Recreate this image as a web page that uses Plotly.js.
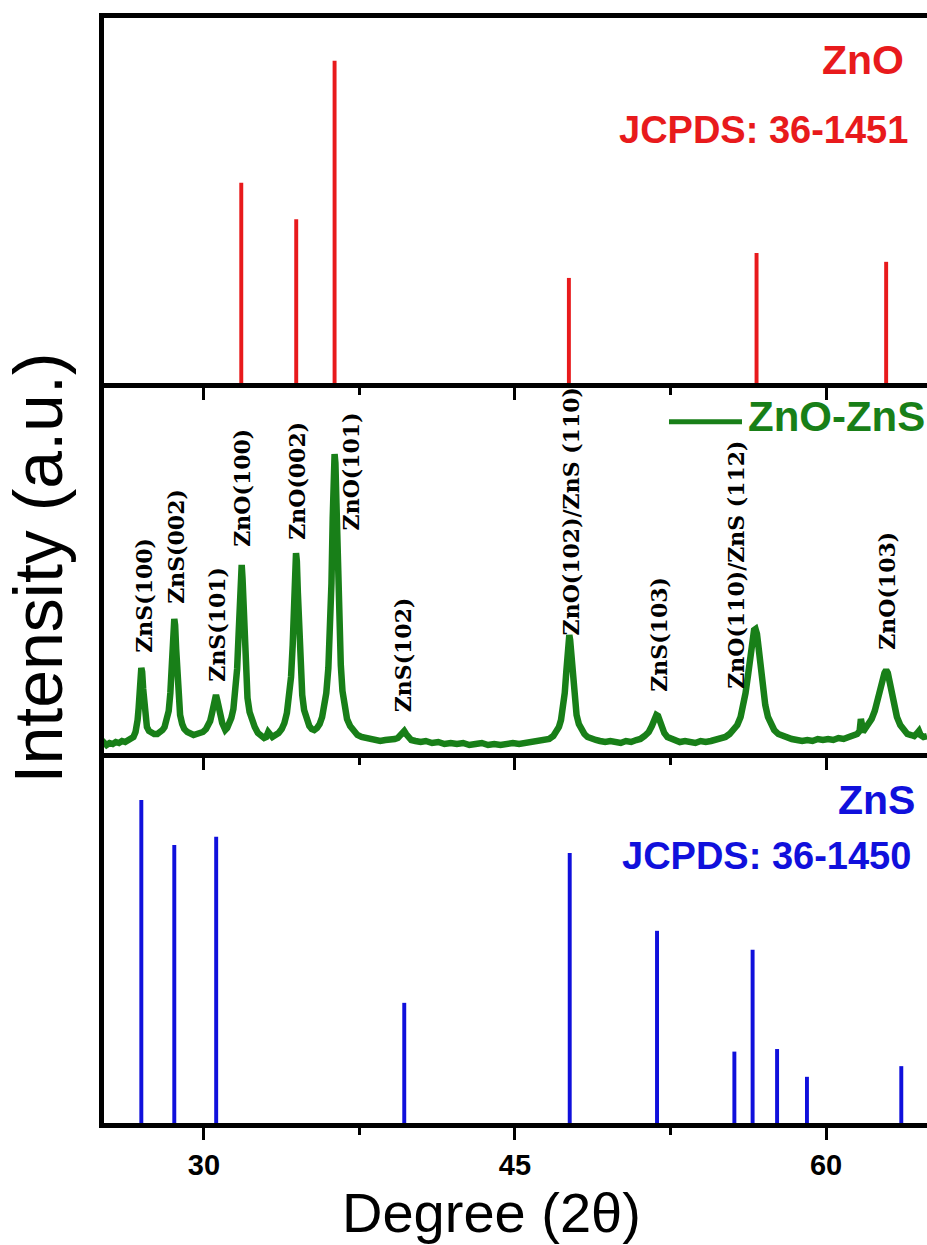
<!DOCTYPE html>
<html>
<head>
<meta charset="utf-8">
<script src="https://cdn.plot.ly/plotly-3.0.1.min.js"></script>
<style>html,body{margin:0;padding:0;background:#fff;}#chart{width:927px;height:1245px;}</style>
</head>
<body>
<div id="chart"></div>
<script>
// ZnO reference pattern (JCPDS 36-1451): 2theta and relative intensity
const znoRef2theta = [31.8, 34.45, 36.3, 47.6, 56.65, 62.9];
const znoRefIntensity = [62.1, 50.8, 100, 32.6, 40.3, 37.6];

// ZnS reference pattern (JCPDS 36-1450)
const znsRef2theta = [26.98, 28.57, 30.59, 39.66, 47.64, 51.85, 55.58, 56.46, 57.64, 59.08, 63.63];
const znsRefIntensity = [100, 86.1, 88.6, 37.2, 83.6, 59.5, 22.1, 53.6, 22.9, 14.3, 17.6];

const xrd2theta = [25.0,25.15,25.3,25.45,25.6,25.75,25.9,26.05,26.2,26.35,26.5,26.6,26.7,
26.75,26.8,26.85,26.9,26.95,26.98,27.02,27.07,27.12,27.18,27.25,27.35,27.45,27.6,27.75,27.9,28.0,28.1,28.2,28.3,28.38,28.45,28.52,28.57,28.61,28.66,28.72,28.78,28.85,28.95,29.05,29.2,29.35,29.5,29.65,29.8,29.95,30.1,30.2,30.3,30.38,30.45,30.52,30.58,30.64,30.7,30.76,30.82,
30.88,30.95,31.03,31.12,31.22,31.32,31.42,31.52,31.6,31.67,31.73,31.78,31.82,31.86,31.91,31.97,32.03,32.1,32.2,32.32,32.45,32.6,32.75,32.9,33.0,33.1,33.18,33.3,33.45,33.6,33.75,33.88,34.0,34.1,34.2,34.28,34.35,34.4,34.44,34.48,34.53,34.59,34.66,34.74,34.83,34.95,35.08,35.2,35.32,35.45,35.58,35.7,35.8,35.9,36.0,36.08,36.15,36.21,36.26,36.3,36.34,36.39,36.45,36.52,36.6,36.68,36.78,36.9,37.05,37.2,37.4,37.6,37.8,38.0,38.25,38.5,38.75,39.0,39.2,39.35,39.48,39.58,39.66,39.75,39.85,40.0,40.2,40.45,40.7,41.0,41.3,41.6,41.9,42.2,42.5,42.8,43.1,43.4,43.7,44.0,44.3,44.6,44.9,45.2,45.5,45.8,46.1,46.4,46.65,46.85,47.0,47.12,47.22,47.32,47.4,47.47,47.53,47.58,47.62,47.66,47.72,47.8,47.88,47.97,48.08,48.2,48.35,48.5,48.7,48.9,49.1,49.35,49.6,49.85,50.1,50.35,50.6,50.85,51.05,51.25,51.45,51.6,51.72,51.82,51.9,51.98,52.08,52.2,52.35,52.55,52.75,52.95,53.2,53.45,53.7,53.95,54.2,54.45,54.7,54.95,55.15,55.35,55.55,55.72,55.88,56.0,56.12,56.24,56.35,56.45,56.53,56.6,56.67,56.75,56.85,56.95,57.07,57.2,57.35,57.5,57.7,57.9,58.1,58.35,58.6,58.85,59.1,59.35,59.6,59.85,60.1,60.35,60.6,60.85,61.1,61.3,61.5,61.62,61.68,61.72,61.78,61.9,62.05,62.2,62.35,62.5,62.62,62.72,62.82,62.9,62.98,63.06,63.16,63.28,63.42,63.58,63.75,63.92,64.1,64.25,64.4,64.48,64.56,64.7,64.87];
const xrdCounts = [9,11,8,10,9,11,10,12,11,13,14,16,21,
26,33,45,62,80,85,81,64,46,33,26,22,20,19,19,21,23,26,32,42,60,87,118,134,128,104,74,52,38,29,24,21,19,18,19,20,21,24,27,32,39,49,57,58,53,44,38,36,
30,25,23,25,29,35,44,60,84,118,160,186,188,175,142,104,75,55,41,32,26,20,17,15,16,21,19,16,18,20,24,30,40,53,76,108,153,188,200,192,160,118,82,58,43,33,27,24,23,25,29,36,45,60,85,120,170,235,285,299,290,250,190,130,88,62,45,34,27,22,18,16,15,14,13,12,13,13,14,15,18,21,22,19,16,13,12,11,12,10,11,9,10,9,10,8,9,10,8,9,8,9,10,9,10,11,11,12,14,17,21,26,33,45,60,80,102,116,118,113,96,72,52,38,29,23,19,16,14,13,12,11,12,11,10,12,11,13,14,17,21,27,34,38,37,31,25,20,16,14,13,11,12,11,10,12,11,12,13,14,16,19,23,28,36,46,60,78,98,115,123,124,119,105,84,64,48,36,28,23,19,17,15,14,13,12,13,12,14,13,14,13,15,14,16,17,19,22,34,30,21,24,28,34,42,52,62,72,80,83,80,72,60,47,36,28,22,19,18,17,20,22,18,16,17];

// Peak assignments in the measured pattern
const peakLabels = ["ZnS(100)","ZnS(002)","ZnS(101)","ZnO(100)","ZnO(002)","ZnO(101)","ZnS(102)","ZnO(102)/ZnS (110)","ZnS(103)","ZnO(110)/ZnS (112)","ZnO(103)"];
const peakLabel2theta = [27.07, 28.62, 30.59, 31.82, 34.48, 37.11, 39.59, 47.72, 51.91, 55.65, 62.93];
const peakLabelBase = [98, 147, 69, 204, 211, 221, 39, 116, 59, 62, 101];

const xTickVals = [30, 45, 60];
const xTickText = ["30", "45", "60"];

const RED = "#e81a1c", BLUE = "#1010dc", GREEN = "#187f18";
const SANS = "Liberation Sans, Arial, sans-serif";

const traces = [
  {type: "bar", x: znoRef2theta, y: znoRefIntensity, width: 0.19, xaxis: "x3", yaxis: "y3",
   marker: {color: RED, line: {width: 0}}, name: "ZnO", hoverinfo: "x+y"},
  {type: "scatter", mode: "lines", x: xrd2theta, y: xrdCounts, xaxis: "x2", yaxis: "y2",
   line: {color: GREEN, width: 6.5}, name: "ZnO-ZnS"},
  {type: "bar", x: znsRef2theta, y: znsRefIntensity, width: 0.19, xaxis: "x", yaxis: "y",
   marker: {color: BLUE, line: {width: 0}}, name: "ZnS", hoverinfo: "x+y"}
];

const xCommon = {
  range: [25.18, 64.87], showline: true, linewidth: 5, linecolor: "#000",
  ticks: "outside", ticklen: 12, tickwidth: 3, tickcolor: "#000",
  tickmode: "array", tickvals: xTickVals, ticktext: xTickText,
  minor: {tickvals: [37.5, 52.5], ticks: "outside", ticklen: 7, tickwidth: 3, tickcolor: "#000"},
  showgrid: false, zeroline: false, fixedrange: true
};
const yCommon = {
  showline: true, linewidth: 5, linecolor: "#000", ticks: "", showticklabels: false,
  showgrid: false, zeroline: false, fixedrange: true
};

const b1 = 0.33484, b2 = 0.66968;

const annotations = peakLabels.map((t, i) => ({
  text: "<b>" + t + "</b>", x: peakLabel2theta[i], y: peakLabelBase[i], xref: "x2", yref: "y2",
  textangle: -90, xanchor: "center", yanchor: "bottom", showarrow: false,
  font: {family: "DejaVu Serif, Liberation Serif, serif", size: 22, color: "#000"}
}));

annotations.push(
  {text: "<b>ZnO</b>", xref: "paper", yref: "paper", x: 0.9745, y: 0.9620, xanchor: "right", yanchor: "middle",
   showarrow: false, font: {family: SANS, size: 41, color: RED}},
  {text: "<b>JCPDS: 36-1451</b>", xref: "paper", yref: "paper", x: 0.9795, y: 0.8986, xanchor: "right", yanchor: "middle",
   showarrow: false, font: {family: SANS, size: 38, color: RED}},
  {text: "<b>ZnO-ZnS</b>", xref: "paper", yref: "paper", x: 0.7801, y: 0.6392, xanchor: "left", yanchor: "middle",
   showarrow: false, font: {family: SANS, size: 42, color: GREEN}},
  {text: "<b>ZnS</b>", xref: "paper", yref: "paper", x: 0.9878, y: 0.2923, xanchor: "right", yanchor: "middle",
   showarrow: false, font: {family: SANS, size: 41, color: BLUE}},
  {text: "<b>JCPDS: 36-1450</b>", xref: "paper", yref: "paper", x: 0.9830, y: 0.2416, xanchor: "right", yanchor: "middle",
   showarrow: false, font: {family: SANS, size: 38, color: BLUE}},
  {text: "Degree (2θ)", xref: "paper", yref: "paper", x: 0.4714, y: -0.0507, xanchor: "center", yanchor: "top",
   showarrow: false, font: {family: SANS, size: 56, color: "#000"}}
);

const layout = {
  width: 927, height: 1245,
  margin: {l: 104, r: 0, t: 18, b: 122},
  paper_bgcolor: "#fff", plot_bgcolor: "#fff",
  showlegend: false,
  font: {family: SANS, color: "#000"},
  xaxis: Object.assign({}, xCommon, {anchor: "y",
    tickfont: {family: SANS, size: 29, color: "#000", weight: "bold"}}),
  xaxis2: Object.assign({}, xCommon, {anchor: "y2", matches: "x", showticklabels: false}),
  xaxis3: Object.assign({}, xCommon, {anchor: "y3", matches: "x", showticklabels: false, mirror: true}),
  yaxis: Object.assign({}, yCommon, {domain: [0, b1], range: [0, 114.55]}),
  yaxis2: Object.assign({}, yCommon, {domain: [b1, b2], range: [0, 370],
    title: {text: "Intensity (a.u.)", font: {family: SANS, size: 68, color: "#000"}, standoff: 20}}),
  yaxis3: Object.assign({}, yCommon, {domain: [b2, 1], range: [0, 113.25]}),
  shapes: [
    {type: "line", xref: "paper", yref: "paper", x0: 0.6865, x1: 0.7752, y0: 0.6347, y1: 0.6347,
     line: {color: GREEN, width: 5}}
  ],
  annotations: annotations
};

Plotly.newPlot("chart", traces, layout, {displayModeBar: false, staticPlot: true});
</script>
</body>
</html>
